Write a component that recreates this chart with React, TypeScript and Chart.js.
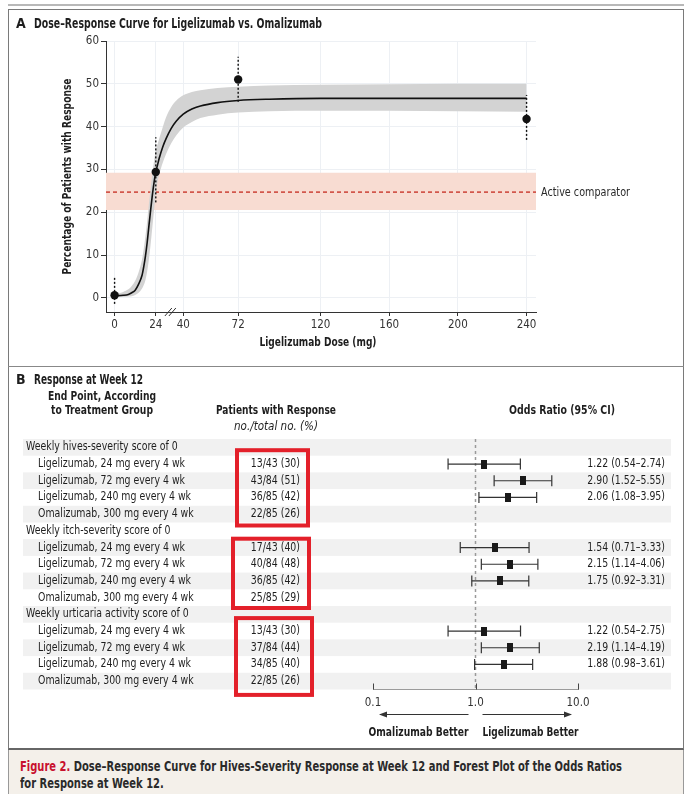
import React, { useEffect, useRef } from 'react';
import { Chart, registerables } from 'chart.js';
Chart.register(...registerables);

// ---------------- Panel A data ----------------
const DOSE_TICKS = [0, 24, 40, 72, 120, 160, 200, 240];
const RESPONSE_TICKS = [0, 10, 20, 30, 40, 50, 60];
const DOSE_MIN = -5;
const DOSE_MAX = 245.5;
const RESPONSE_MIN = -3.3;
const RESPONSE_MAX = 60;

const CURVE_DOSE = [0, 5, 8, 10, 12, 14, 16, 17, 18, 19, 20, 21, 22, 23, 24, 25, 26, 28, 30, 33, 36, 40, 45, 50, 60, 72, 90, 120, 160, 200, 240];
const CURVE_FIT = [0.5, 0.6, 0.8, 1.2, 1.8, 3.2, 5.3, 7.3, 9.8, 13, 16.8, 20.5, 24, 27, 29.4, 31, 32.6, 35.2, 37.2, 39.6, 41.3, 42.9, 44.1, 44.8, 45.6, 46.1, 46.4, 46.6, 46.6, 46.6, 46.6];
const CURVE_LOW = [0.2, 0.2, 0.3, 0.4, 0.7, 1.2, 2.2, 3.0, 4.2, 6.2, 9, 12.5, 16.5, 20.5, 24.5, 27, 28.8, 31.5, 33.6, 36.1, 38, 39.8, 41.1, 42, 42.8, 43.3, 43.6, 43.7, 43.7, 43.6, 43.5];
const CURVE_HIGH = [0.9, 1.4, 2.0, 2.8, 4.0, 6.0, 9.0, 11.5, 14.5, 18, 22, 25.5, 29, 32, 34.5, 35.8, 37.2, 39.8, 42.2, 44.6, 46.1, 47.3, 48.1, 48.5, 49, 49.3, 49.6, 49.8, 49.9, 50, 50];

const OBS_DOSE = [0, 24, 72, 240];
const OBS_PCT = [0.6, 29.4, 51.0, 41.8];
const OBS_LOW = [-1.4, 22.3, 45.8, 36.9];
const OBS_HIGH = [4.9, 37.5, 56.3, 47.4];

const COMPARATOR = 24.7;
const COMPARATOR_LOW = 20.5;
const COMPARATOR_HIGH = 29.2;

// ---------------- Panel B data ----------------
const ENDPOINTS = ['Weekly hives-severity score of 0', 'Weekly itch-severity score of 0', 'Weekly urticaria activity score of 0'];
const GROUPS = ['Ligelizumab, 24 mg every 4 wk', 'Ligelizumab, 72 mg every 4 wk', 'Ligelizumab, 240 mg every 4 wk', 'Omalizumab, 300 mg every 4 wk'];
const RESPONDERS = [[13, 43, 36, 22], [17, 40, 36, 25], [13, 37, 34, 22]];
const TOTALS = [[43, 84, 85, 85], [43, 84, 85, 85], [43, 84, 85, 85]];
const PERCENTS = [[30, 51, 42, 26], [40, 48, 42, 29], [30, 44, 40, 26]];
const ODDS = [[1.22, 2.90, 2.06], [1.54, 2.15, 1.75], [1.22, 2.19, 1.88]];
const ODDS_LOW = [[0.54, 1.52, 1.08], [0.71, 1.14, 0.92], [0.54, 1.14, 0.98]];
const ODDS_HIGH = [[2.74, 5.55, 3.95], [3.33, 4.06, 3.31], [2.75, 4.19, 3.61]];
const OR_TICKS = [0.1, 1, 10];
const OR_MIN = 0.1;
const OR_MAX = 10;

const CAPTION_LABEL = 'Figure 2.';
const CAPTION_LINE1 = ' Dose–Response Curve for Hives-Severity Response at Week 12 and Forest Plot of the Odds Ratios';
const CAPTION_LINE2 = 'for Response at Week 12.';

function pickFamily(): string {
  try {
    const c = document.createElement('canvas').getContext('2d') as CanvasRenderingContext2D;
    const s = 'Ligelizumab, 240 mg every 4 wk 0123456789';
    c.font = '20px monospace';
    const base = c.measureText(s).width;
    const cands = ['Liberation Sans Narrow', 'DejaVu Sans Condensed', 'Roboto Condensed', 'Open Sans Condensed', 'Noto Sans'];
    for (const f of cands) {
      c.font = `20px '${f}', monospace`;
      if (Math.abs(c.measureText(s).width - base) > 0.5) return `'${f}', 'Liberation Sans', sans-serif`;
    }
  } catch (e) {}
  return `'Liberation Sans', sans-serif`;
}
const FAMILY = pickFamily();
Chart.defaults.font.family = FAMILY;
Chart.defaults.color = '#333';

function measure(font: string, s: string): number {
  const c = document.createElement('canvas').getContext('2d') as CanvasRenderingContext2D;
  c.font = font;
  return c.measureText(s).width;
}
const CAPTION_FONT = `600 13.5px ${FAMILY}`;
const CAPTION_SCALE = Math.min(1, 602 / measure(CAPTION_FONT, CAPTION_LABEL + CAPTION_LINE1));

const TEXT = '#1e1e1e';
const rowOf = (g: number, t: number) => g * 5 + 1 + t;
const headerRow = (g: number) => g * 5;
const ROW_COUNT = ENDPOINTS.length * (GROUPS.length + 1);

// draw text squeezed horizontally to a given width (like the condensed original face)
function fillW(ctx: CanvasRenderingContext2D, s: string, x: number, y: number, w: number) {
  const nat = ctx.measureText(s).width;
  if (nat > w) ctx.fillText(s, x, y, w); else ctx.fillText(s, x, y);
}
function fillK(ctx: CanvasRenderingContext2D, s: string, x: number, y: number, k: number) {
  const nat = ctx.measureText(s).width;
  ctx.fillText(s, x, y, nat * k);
}

const panelAPlugin = {
  id: 'panelA',
  afterDraw(chart: any) {
    const { ctx, scales } = chart;
    const x = scales.x, y = scales.y;
    ctx.save();
    ctx.fillStyle = TEXT;
    ctx.textBaseline = 'middle';
    ctx.textAlign = 'left';
    ctx.font = `600 14px ${FAMILY}`;
    ctx.fillText('A', 16, 24);
    ctx.font = `600 13.5px ${FAMILY}`;
    fillW(ctx, 'Dose–Response Curve for Ligelizumab vs. Omalizumab', 34, 24, 288);

    ctx.textAlign = 'center';
    ctx.font = `600 12.5px ${FAMILY}`;
    fillW(ctx, 'Ligelizumab Dose (mg)', 318, 343, 117);
    ctx.save();
    ctx.translate(68, (chart.chartArea.top + chart.chartArea.bottom) / 2);
    ctx.rotate(-Math.PI / 2);
    fillW(ctx, 'Percentage of Patients with Response', 0, 0, 196);
    ctx.restore();

    ctx.textAlign = 'left';
    ctx.font = `11.5px ${FAMILY}`;
    ctx.fillStyle = '#2a2a2a';
    fillW(ctx, 'Active comparator', chart.chartArea.right + 5, y.getPixelForValue(COMPARATOR) + 0.5, 89);

    // axis break marks
    const bx = x.getPixelForValue(32.5);
    const by = chart.chartArea.bottom;
    ctx.strokeStyle = '#333';
    ctx.lineWidth = 1;
    for (const off of [-2, 2]) {
      ctx.beginPath();
      ctx.moveTo(bx + off - 3.5, by + 4);
      ctx.lineTo(bx + off + 3.5, by - 4);
      ctx.stroke();
    }
    ctx.restore();
  },
};

const panelBPlugin = {
  id: 'panelB',
  beforeDatasetsDraw(chart: any) {
    const { ctx, scales } = chart;
    const y = scales.y;
    ctx.save();
    ctx.fillStyle = '#f1f1f1';
    for (let r = 0; r < ROW_COUNT; r += 2) {
      const top = y.getPixelForValue(r - 0.5);
      const bot = y.getPixelForValue(r + 0.5);
      ctx.fillRect(23, top, 648, bot - top);
    }
    ctx.restore();
  },
  afterDraw(chart: any) {
    const { ctx, scales } = chart;
    const x = scales.x, y = scales.y;
    ctx.save();
    ctx.fillStyle = TEXT;
    ctx.textBaseline = 'middle';
    ctx.textAlign = 'left';
    ctx.font = `600 14px ${FAMILY}`;
    ctx.fillText('B', 16, 15);
    ctx.font = `600 13.5px ${FAMILY}`;
    fillW(ctx, 'Response at Week 12', 34, 15, 109);

    ctx.textAlign = 'center';
    ctx.font = `600 12.5px ${FAMILY}`;
    fillW(ctx, 'End Point, According', 102, 32, 108);
    fillW(ctx, 'to Treatment Group', 102, 46, 102);
    fillW(ctx, 'Patients with Response', 276, 46, 120);
    fillW(ctx, 'Odds Ratio (95% CI)', 562, 46, 106);
    ctx.font = `italic 11.5px ${FAMILY}`;
    fillW(ctx, 'no./total no. (%)', 276, 62, 84);

    ctx.font = `11.5px ${FAMILY}`;
    const k = Math.min(1, 153 / ctx.measureText(GROUPS[2]).width);
    for (let g = 0; g < ENDPOINTS.length; g++) {
      ctx.textAlign = 'left';
      fillK(ctx, ENDPOINTS[g], 26, y.getPixelForValue(headerRow(g)), k);
      for (let t = 0; t < GROUPS.length; t++) {
        const ry = y.getPixelForValue(rowOf(g, t));
        ctx.textAlign = 'left';
        fillK(ctx, GROUPS[t], 38, ry, k);
        ctx.textAlign = 'right';
        fillK(ctx, `${RESPONDERS[g][t]}/${TOTALS[g][t]} (${PERCENTS[g][t]})`, 300, ry, k);
        if (t < ODDS[g].length) {
          fillK(ctx, `${ODDS[g][t].toFixed(2)} (${ODDS_LOW[g][t].toFixed(2)}–${ODDS_HIGH[g][t].toFixed(2)})`, 665, ry, k);
        }
      }
    }

    // red highlight boxes
    ctx.strokeStyle = '#e3202a';
    ctx.lineWidth = 4;
    const boxX = [[237, 308], [233, 309], [236, 312]];
    const boxPad = [[-5.5, 3], [-0.5, 2], [-4.6, 5.4]];
    for (let g = 0; g < ENDPOINTS.length; g++) {
      const top = y.getPixelForValue(rowOf(g, 0) - 0.5) + boxPad[g][0];
      const bot = y.getPixelForValue(rowOf(g, GROUPS.length - 1) + 0.5) + boxPad[g][1];
      ctx.strokeRect(boxX[g][0], top, boxX[g][1] - boxX[g][0], bot - top);
    }

    // axis tick marks (upward)
    ctx.strokeStyle = '#444';
    ctx.lineWidth = 1;
    const axisY = x.top;
    for (const v of OR_TICKS) {
      const px = Math.round(x.getPixelForValue(v)) + 0.5;
      ctx.beginPath();
      ctx.moveTo(px, axisY);
      ctx.lineTo(px, axisY - 6);
      ctx.stroke();
    }

    // direction arrows
    const one = x.getPixelForValue(1);
    const lo = x.getPixelForValue(OR_MIN);
    const hi = x.getPixelForValue(OR_MAX);
    const ay = axisY + 25;
    ctx.strokeStyle = '#333';
    ctx.fillStyle = '#333';
    ctx.beginPath();
    ctx.moveTo(one - 7, ay); ctx.lineTo(lo + 10, ay);
    ctx.moveTo(one + 7, ay); ctx.lineTo(hi - 10, ay);
    ctx.stroke();
    ctx.beginPath();
    ctx.moveTo(lo + 6, ay); ctx.lineTo(lo + 14, ay - 3); ctx.lineTo(lo + 14, ay + 3); ctx.closePath();
    ctx.moveTo(hi - 6, ay); ctx.lineTo(hi - 14, ay - 3); ctx.lineTo(hi - 14, ay + 3); ctx.closePath();
    ctx.fill();

    ctx.fillStyle = TEXT;
    ctx.font = `600 12.5px ${FAMILY}`;
    ctx.textAlign = 'right';
    fillW(ctx, 'Omalizumab Better', one - 7, axisY + 43, 100);
    ctx.textAlign = 'left';
    fillW(ctx, 'Ligelizumab Better', one + 7, axisY + 43, 96);
    ctx.restore();
  },
};

const clear = 'rgba(0,0,0,0)';

function configA(): any {
  const pts = (xs: number[], ys: number[]) => xs.map((v, i) => ({ x: v, y: ys[i] }));
  return {
    type: 'line',
    data: {
      datasets: [
        { type: 'scatter', data: pts(OBS_DOSE, OBS_PCT), pointRadius: 4.2, pointBackgroundColor: '#111', pointBorderColor: '#111', pointBorderWidth: 0, showLine: false, order: 0 },
        ...OBS_DOSE.map((d, i) => ({ data: [{ x: d, y: OBS_LOW[i] }, { x: d, y: OBS_HIGH[i] }], borderColor: '#111', borderWidth: 1.4, borderDash: [2, 2], pointRadius: 0, fill: false, order: 1 })),
        { data: pts(CURVE_DOSE, CURVE_FIT), borderColor: '#111', borderWidth: 1.6, pointRadius: 0, cubicInterpolationMode: 'monotone', fill: false, order: 2 },
        { data: pts(CURVE_DOSE, CURVE_HIGH), borderColor: clear, borderWidth: 0, pointRadius: 0, cubicInterpolationMode: 'monotone', fill: '+1', backgroundColor: '#d3d3d3', order: 3 },
        { data: pts(CURVE_DOSE, CURVE_LOW), borderColor: clear, borderWidth: 0, pointRadius: 0, cubicInterpolationMode: 'monotone', fill: false, order: 3 },
        { data: [{ x: DOSE_MIN, y: COMPARATOR }, { x: DOSE_MAX, y: COMPARATOR }], borderColor: '#d2574c', borderWidth: 1.8, borderDash: [4, 3], pointRadius: 0, fill: false, order: 4 },
        { data: [{ x: DOSE_MIN, y: COMPARATOR_HIGH }, { x: DOSE_MAX, y: COMPARATOR_HIGH }], borderColor: clear, borderWidth: 0, pointRadius: 0, fill: '+1', backgroundColor: '#f8dcd2', order: 5 },
        { data: [{ x: DOSE_MIN, y: COMPARATOR_LOW }, { x: DOSE_MAX, y: COMPARATOR_LOW }], borderColor: clear, borderWidth: 0, pointRadius: 0, fill: false, order: 5 },
      ],
    },
    options: {
      animation: false,
      responsive: false,
      devicePixelRatio: 1,
      events: [],
      layout: { padding: { left: 76, right: 156, top: 41, bottom: 33 } },
      plugins: { legend: { display: false }, tooltip: { enabled: false } },
      scales: {
        x: {
          type: 'linear', min: DOSE_MIN, max: DOSE_MAX,
          afterBuildTicks: (s: any) => { s.ticks = DOSE_TICKS.map((v) => ({ value: v })); },
          afterFit: (s: any) => { s.height = 20; },
          ticks: { color: '#333', font: { size: 11.5 }, padding: 2, autoSkip: false, maxRotation: 0, callback: (v: any) => String(v) },
          grid: { color: '#edf0f4', tickColor: '#333', tickLength: 4, lineWidth: 1 },
          border: { color: '#333', width: 1 },
        },
        y: {
          type: 'linear', min: RESPONSE_MIN, max: RESPONSE_MAX,
          afterBuildTicks: (s: any) => { s.ticks = RESPONSE_TICKS.map((v) => ({ value: v })); },
          afterFit: (s: any) => { s.width = 30; },
          ticks: { color: '#333', font: { size: 11.5 }, padding: 2, callback: (v: any) => String(v) },
          grid: { color: '#edf0f4', tickColor: '#333', tickLength: 5, lineWidth: 1 },
          border: { color: '#333', width: 1 },
        },
      },
    },
    plugins: [panelAPlugin],
  };
}

function configB(): any {
  const marker = document.createElement('canvas');
  marker.width = 6; marker.height = 9;
  const mctx = marker.getContext('2d') as CanvasRenderingContext2D;
  mctx.fillStyle = '#1a1a1a';
  mctx.fillRect(0, 0, 6, 9);

  const whiskers: any[] = [];
  const points: any[] = [];
  for (let g = 0; g < ODDS.length; g++) {
    for (let t = 0; t < ODDS[g].length; t++) {
      const r = rowOf(g, t);
      whiskers.push({
        data: [{ x: ODDS_LOW[g][t], y: r }, { x: ODDS_HIGH[g][t], y: r }],
        borderColor: '#333', borderWidth: 1.2,
        pointStyle: 'line', rotation: 90, pointRadius: 5.5, pointBorderWidth: 1.2, pointBorderColor: '#333',
        fill: false, order: 2,
      });
      points.push({ x: ODDS[g][t], y: r });
    }
  }
  return {
    type: 'line',
    data: {
      datasets: [
        { type: 'scatter', data: points, pointStyle: marker, pointRadius: 5, showLine: false, order: 0 },
        ...whiskers,
        { data: [{ x: 1, y: -0.5 }, { x: 1, y: ROW_COUNT - 0.5 }], borderColor: '#9a9a9a', borderWidth: 1.5, borderDash: [3, 3], pointRadius: 0, fill: false, order: 3 },
      ],
    },
    options: {
      animation: false,
      responsive: false,
      devicePixelRatio: 1,
      events: [],
      layout: { padding: { left: 373, right: 114, top: 74, bottom: 35.5 } },
      plugins: { legend: { display: false }, tooltip: { enabled: false } },
      scales: {
        x: {
          type: 'logarithmic', min: OR_MIN, max: OR_MAX,
          afterBuildTicks: (s: any) => { s.ticks = OR_TICKS.map((v) => ({ value: v })); },
          afterFit: (s: any) => { s.height = 25; },
          ticks: { color: '#333', font: { size: 11.5 }, padding: 7, autoSkip: false, maxRotation: 0, callback: (v: any) => Number(v).toFixed(1) },
          grid: { color: clear, drawTicks: false, drawOnChartArea: false },
          border: { color: '#444', width: 1 },
        },
        y: { type: 'linear', min: -0.5, max: ROW_COUNT - 0.5, reverse: true, display: false },
      },
    },
    plugins: [panelBPlugin],
  };
}

export default function App() {
  const refA = useRef<HTMLCanvasElement>(null);
  const refB = useRef<HTMLCanvasElement>(null);
  useEffect(() => {
    const a = new Chart(refA.current as HTMLCanvasElement, configA());
    const b = new Chart(refB.current as HTMLCanvasElement, configB());
    return () => { a.destroy(); b.destroy(); };
  }, []);
  const abs = (s: any) => ({ position: 'absolute', ...s });
  return (
    <div style={abs({ left: 0, top: 0, width: 692, height: 794, background: '#fff', overflow: 'hidden', fontFamily: FAMILY })}>
      <div style={abs({ left: 8, top: 4, width: 676, height: 2, background: '#b8b8b8' })} />
      <div style={abs({ left: 8, top: 9, width: 676, height: 741, border: '1.5px solid #7a7a7a', borderBottom: '2px solid #666', boxSizing: 'border-box' })} />
      <div style={abs({ left: 8, top: 365.5, width: 676, height: 1, background: '#888' })} />
      <div style={abs({ left: 8, top: 750, width: 676, height: 44, background: '#f4f0ea', borderLeft: '1px solid #999', borderRight: '1px solid #999', boxSizing: 'border-box' })} />
      <div style={abs({ left: 20, top: 758, fontSize: 13.5, lineHeight: '17px', fontWeight: 600, color: '#2a2a2a', whiteSpace: 'nowrap', transform: `scaleX(${CAPTION_SCALE})`, transformOrigin: 'left top' })}>
        <span style={{ color: '#c8102e' }}>{CAPTION_LABEL}</span>{CAPTION_LINE1}<br />{CAPTION_LINE2}
      </div>
      <canvas ref={refA} width={692} height={365} style={abs({ left: 0, top: 0, width: 692, height: 365 })} />
      <canvas ref={refB} width={692} height={385} style={abs({ left: 0, top: 365, width: 692, height: 385 })} />
    </div>
  );
}
